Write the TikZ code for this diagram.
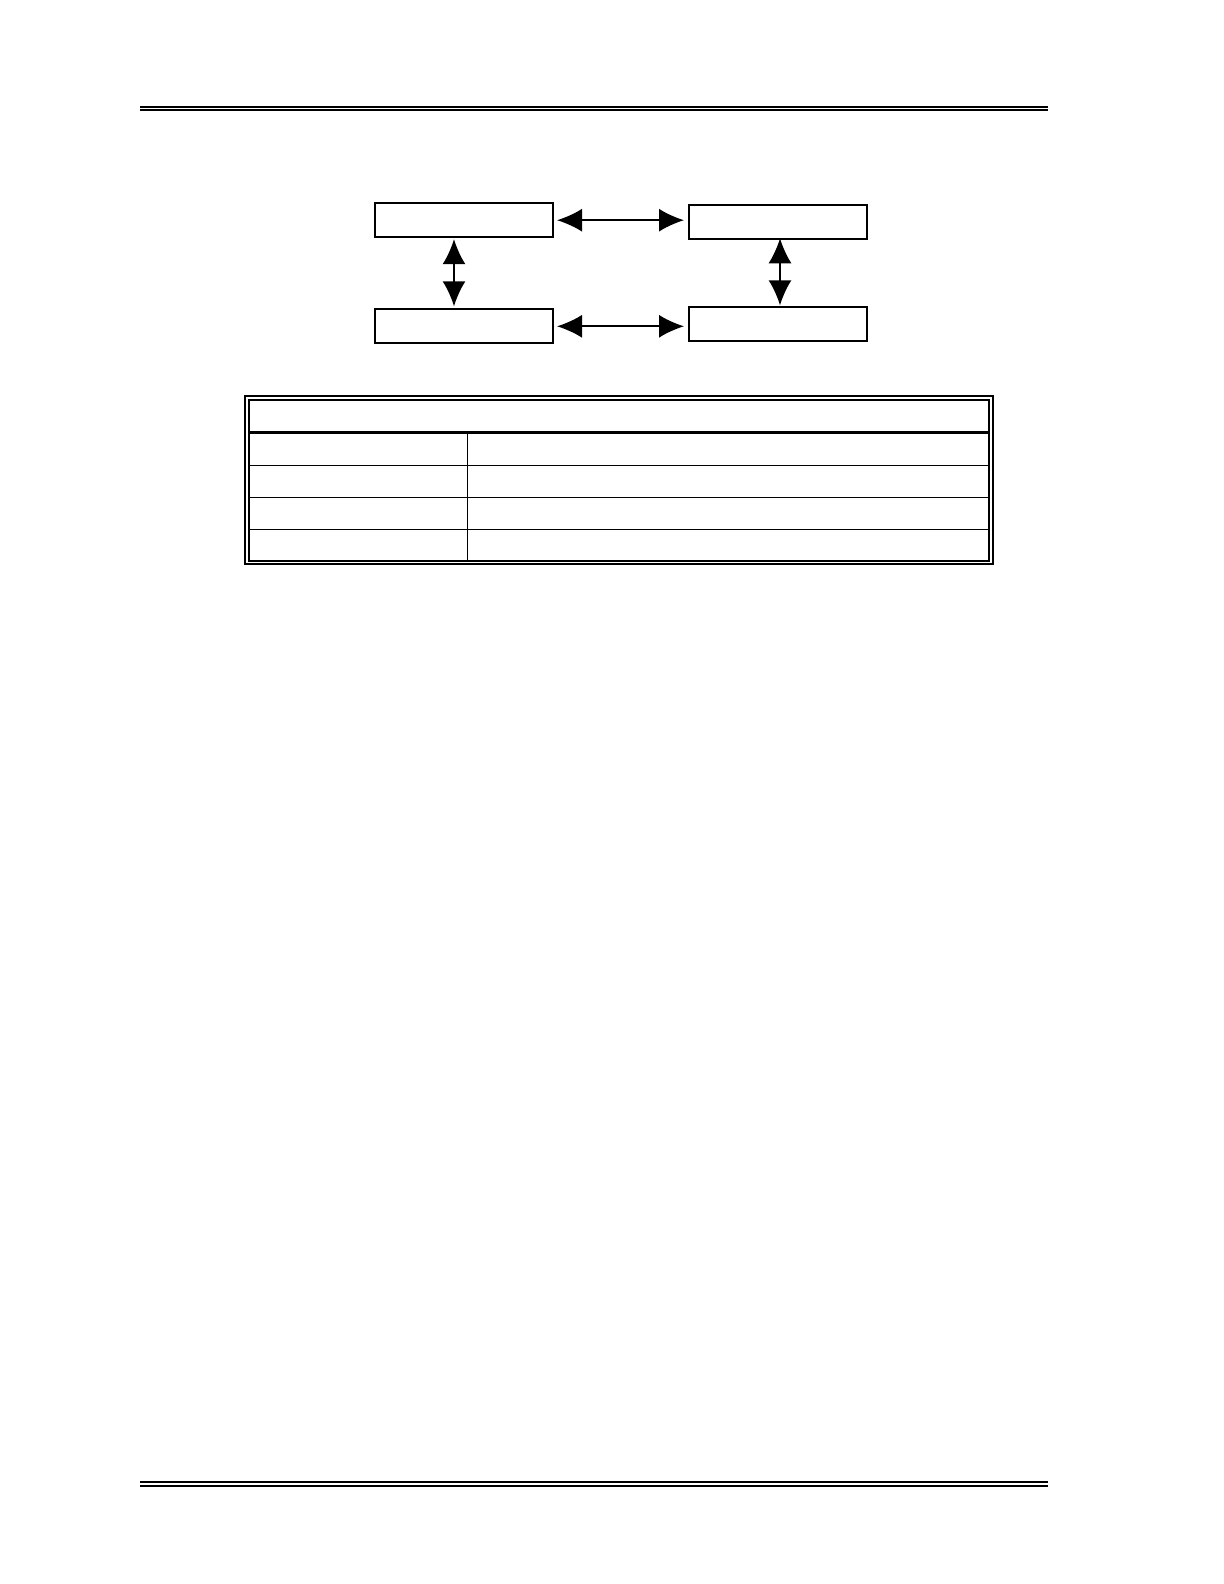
\documentclass[tikz,border=0pt]{standalone}
\usetikzlibrary{arrows.meta}
\begin{document}
\begin{tikzpicture}[x=0.5pt,y=-0.5pt,
  rule/.style={line width=1pt},
  blockbox/.style={draw,line width=1pt,minimum width=89pt,minimum height=17pt,inner sep=0pt},
  biarrow/.style={line width=0.85pt,{Latex[length=12.5pt,width=11.5pt]}-{Latex[length=12.5pt,width=11.5pt]}},
  tframe/.style={line width=1pt},
  tline/.style={line width=0.85pt},
  thead/.style={line width=1.7pt}]
\useasboundingbox (0,0) rectangle (1224,1584);
% page rules
\draw[rule] (140,107) -- (1048,107);
\draw[rule] (140,110.5) -- (1048,110.5);
\draw[rule] (140,1482) -- (1048,1482);
\draw[rule] (140,1485.5) -- (1048,1485.5);
% blocks
\node[blockbox] (tl) at (464,220.2) {};
\node[blockbox] (tr) at (778,222.3) {};
\node[blockbox] (bl) at (464,326.3) {};
\node[blockbox] (br) at (778,324.3) {};
% connectors
\coordinate (a1) at ([xshift=1.5pt]tl.east);
\coordinate (a2) at (a1 -| tr.west);
\draw[biarrow] (a1) -- ([xshift=-2pt]a2);
\coordinate (b1) at ([xshift=1.5pt]bl.east);
\coordinate (b2) at (b1 -| br.west);
\draw[biarrow] (b1) -- ([xshift=-2pt]b2);
\coordinate (c1) at ([xshift=-5pt,yshift=-0.5pt]tl.south);
\coordinate (c2) at (c1 |- bl.north);
\draw[biarrow] (c1) -- ([yshift=1pt]c2);
\coordinate (d1) at ([xshift=1pt,yshift=1pt]tr.south);
\coordinate (d2) at (d1 |- br.north);
\draw[biarrow] (d1) -- ([yshift=0.5pt]d2);
% table
\draw[tframe] (245,396) rectangle (993,564);
\draw[tframe] (249,400) rectangle (989,560.5);
\draw[thead] (249,432.5) -- (989,432.5);
\draw[tline] (467.5,432.5) -- (467.5,560.5);
\draw[tline] (249,465.5) -- (989,465.5);
\draw[tline] (249,497.5) -- (989,497.5);
\draw[tline] (249,529.5) -- (989,529.5);
\end{tikzpicture}
\end{document}
